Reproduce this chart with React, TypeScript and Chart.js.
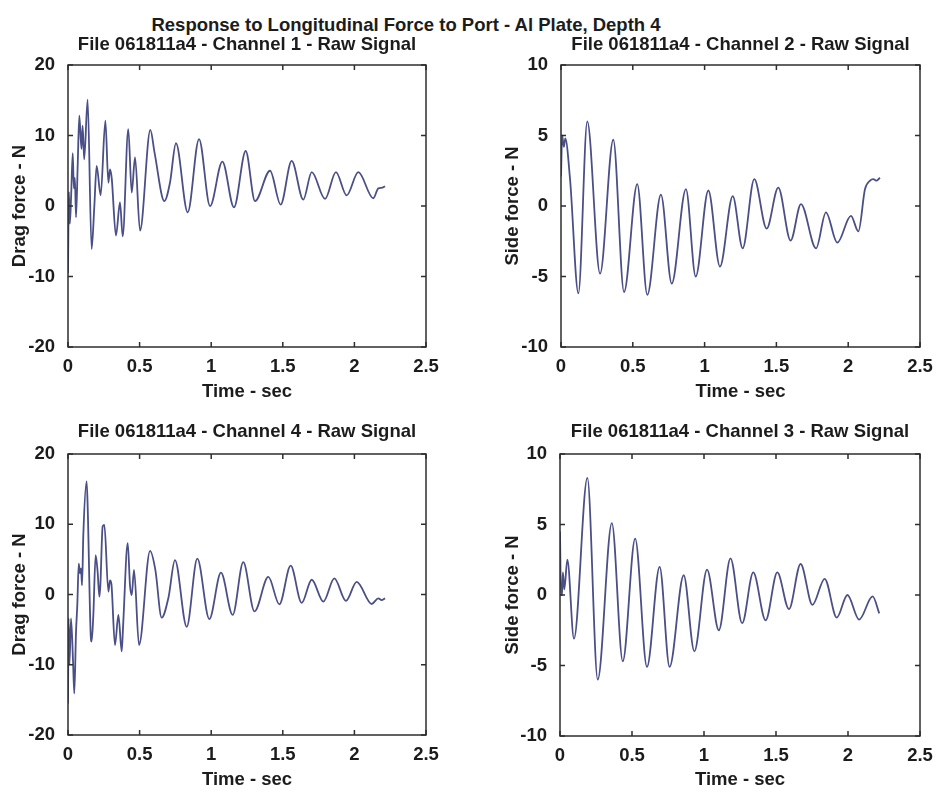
import React, { useEffect, useRef } from 'react';
import { Chart, registerables } from 'chart.js';

Chart.register(...registerables);

// ---------------- Data ----------------
const MAIN_TITLE = 'Response to Longitudinal Force to Port - Al Plate, Depth 4';
const X_LABEL = 'Time - sec';
const X_MIN = 0;
const X_MAX = 2.5;
const X_STEP = 0.5;

// Channel 1 (top-left) - drag force, N
const ch1Time = [0, 0.006, 0.013, 0.022, 0.033, 0.041, 0.048, 0.056, 0.068, 0.079, 0.094, 0.102, 0.113, 0.137, 0.165, 0.184, 0.2, 0.228, 0.261, 0.282, 0.293, 0.305, 0.335, 0.363, 0.382, 0.421, 0.445, 0.468, 0.503, 0.575, 0.605, 0.673, 0.712, 0.754, 0.836, 0.915, 0.992, 1.078, 1.159, 1.241, 1.306, 1.411, 1.485, 1.562, 1.643, 1.702, 1.795, 1.871, 1.946, 2.027, 2.132, 2.167, 2.195, 2.214];
const ch1Force = [-9.5, 2.0, -2.5, 1.5, 7.5, 2.5, 4.0, -1.6, 6.0, 12.8, 8.1, 11.4, 6.6, 15.1, -6.1, 0.0, 5.7, 1.5, 12.1, 3.3, 5.2, 4.0, -4.2, 0.5, -4.3, 10.9, 1.9, 6.9, -3.5, 10.8, 7.5, 0.7, 3.3, 8.9, -0.9, 9.5, 0.0, 6.3, -0.2, 7.8, 0.7, 5.0, 0.2, 6.4, 0.9, 4.8, 1.0, 4.8, 1.5, 4.8, 1.1, 2.5, 2.6, 2.8];

// Channel 2 (top-right) - side force, N
const ch2Time = [0, 0.008, 0.02, 0.03, 0.063, 0.121, 0.183, 0.272, 0.364, 0.439, 0.531, 0.601, 0.696, 0.771, 0.87, 0.938, 1.026, 1.107, 1.196, 1.265, 1.346, 1.432, 1.513, 1.599, 1.671, 1.776, 1.845, 1.924, 2.019, 2.071, 2.117, 2.152, 2.175, 2.198, 2.221];
const ch2Force = [2.1, 5.0, 4.2, 4.8, 1.9, -6.2, 6.0, -4.8, 4.7, -6.1, 1.55, -6.3, 0.8, -5.5, 1.2, -5.0, 1.1, -4.3, 0.7, -3.0, 1.9, -1.6, 1.3, -2.45, 0.14, -3.0, -0.45, -2.6, -0.7, -1.8, 1.2, 1.8, 1.9, 1.8, 2.0];

// Channel 4 (bottom-left) - drag force, N
const ch4Time = [0, 0.004, 0.01, 0.021, 0.035, 0.044, 0.056, 0.065, 0.075, 0.084, 0.091, 0.098, 0.107, 0.13, 0.137, 0.158, 0.165, 0.177, 0.193, 0.207, 0.219, 0.226, 0.242, 0.254, 0.282, 0.293, 0.303, 0.328, 0.352, 0.375, 0.385, 0.417, 0.433, 0.445, 0.461, 0.496, 0.573, 0.61, 0.654, 0.701, 0.747, 0.829, 0.903, 0.987, 1.068, 1.15, 1.224, 1.302, 1.399, 1.476, 1.555, 1.632, 1.702, 1.783, 1.86, 1.941, 2.016, 2.121, 2.167, 2.19, 2.214];
const ch4Force = [-15.5, -3.4, -10, -3.4, -9.4, -14.1, -5.3, -1.5, 4.4, 3.0, 3.7, 1.3, 8.5, 16.1, 12.8, -5.5, -6.7, -2.9, 5.6, 3.2, -0.3, 1.3, 9.7, 9.9, 0.4, 2.0, 1.5, -7.2, -2.9, -8.1, -4.4, 7.3, 1.3, -0.1, 3.5, -7.2, 6.2, 3.5, -3.3, -0.5, 4.9, -4.6, 5.1, -3.5, 3.1, -2.9, 4.6, -2.4, 2.5, -1.4, 4.1, -1.2, 2.1, -1.0, 2.3, -0.9, 1.8, -1.35, -0.55, -0.8, -0.55];

// Channel 3 (bottom-right) - side force, N
const ch3Time = [0, 0.007, 0.014, 0.02, 0.03, 0.051, 0.097, 0.19, 0.262, 0.36, 0.436, 0.522, 0.604, 0.692, 0.761, 0.859, 0.933, 1.021, 1.103, 1.184, 1.265, 1.342, 1.428, 1.509, 1.59, 1.671, 1.753, 1.838, 1.922, 1.996, 2.077, 2.171, 2.217];
const ch3Force = [4.5, 0.0, 0.0, 1.6, 0.4, 2.5, -3.1, 8.3, -6.0, 5.1, -4.7, 4.0, -5.1, 2.0, -5.1, 1.4, -4.0, 1.8, -2.5, 2.6, -2.0, 1.6, -1.8, 1.6, -1.0, 2.2, -0.7, 1.15, -1.6, 0.0, -1.74, -0.1, -1.3];

// ---------------- Styling ----------------
const FONT = '"Liberation Sans", Arial, Helvetica, sans-serif';
const FS = 18.5;
const LH = FS * 1.2;
const TXT = '#1c1c1c';
const LINE = '#4a4f86';
const BOX = '#2e2e2e';

type Geo = {
  cl: number; ct: number; cw: number; ch: number;
  l: number; t: number; r: number; b: number;
  subY: number; xTitleY: number; yTitleX: number;
};

const boxPlugin = {
  id: 'matlabBox',
  afterDatasetsDraw(chart: any) {
    const { ctx, chartArea: a, scales } = chart;
    ctx.save();
    ctx.strokeStyle = BOX;
    ctx.lineWidth = 1.5;
    ctx.strokeRect(a.left, a.top, a.right - a.left, a.bottom - a.top);
    const L = 5;
    ctx.beginPath();
    scales.x.ticks.forEach((tk: any) => {
      const px = scales.x.getPixelForValue(tk.value);
      ctx.moveTo(px, a.bottom); ctx.lineTo(px, a.bottom - L);
      ctx.moveTo(px, a.top); ctx.lineTo(px, a.top + L);
    });
    scales.y.ticks.forEach((tk: any) => {
      const py = scales.y.getPixelForValue(tk.value);
      ctx.moveTo(a.left, py); ctx.lineTo(a.left + L, py);
      ctx.moveTo(a.right, py); ctx.lineTo(a.right - L, py);
    });
    ctx.stroke();
    ctx.restore();
  },
};

type PanelProps = {
  title: string; yLabel: string; xs: number[]; ys: number[];
  yMin: number; yMax: number; yStep: number; geo: Geo;
};

function Panel({ title, yLabel, xs, ys, yMin, yMax, yStep, geo }: PanelProps) {
  const ref = useRef<HTMLCanvasElement>(null);
  useEffect(() => {
    const canvas = ref.current!;
    const font = { family: FONT, size: FS, weight: 'bold' as const, lineHeight: 1.2 };
    const chart = new Chart(canvas, {
      type: 'line',
      data: {
        datasets: [{
          data: xs.map((x, i) => ({ x, y: ys[i] })),
          borderColor: LINE,
          borderWidth: 1.8,
          pointRadius: 0,
          fill: false,
          cubicInterpolationMode: 'monotone',
        }],
      },
      options: {
        responsive: false,
        animation: false,
        events: [],
        layout: {
          padding: {
            left: 0,
            right: geo.cl + geo.cw - geo.r,
            top: geo.subY - LH / 2 - geo.ct,
            bottom: geo.ct + geo.ch - geo.xTitleY - LH / 2,
          },
        },
        plugins: {
          legend: { display: false },
          tooltip: { enabled: false },
          title: {
            display: true,
            text: title,
            font,
            color: TXT,
            fullSize: false,
            padding: { top: 0, bottom: geo.t - geo.subY - LH / 2 },
          },
        },
        scales: {
          x: {
            type: 'linear',
            min: X_MIN,
            max: X_MAX,
            ticks: {
              stepSize: X_STEP, font, color: TXT, padding: 1, maxRotation: 0, autoSkip: false,
              callback: (v: any) => String(Number(v)),
            },
            grid: { display: false },
            border: { display: false },
            title: { display: true, text: X_LABEL, font, color: TXT, padding: 0 },
            afterFit: (s: any) => { s.height = geo.xTitleY - geo.b + LH / 2; },
          },
          y: {
            type: 'linear',
            min: yMin,
            max: yMax,
            ticks: { stepSize: yStep, font, color: TXT, padding: 5, callback: (v: any) => String(Number(v)) },
            grid: { display: false },
            border: { display: false },
            title: {
              display: true, text: yLabel, font, color: TXT,
              padding: { top: geo.yTitleX - geo.cl - LH / 2, bottom: 0 },
            },
            afterFit: (s: any) => { s.width = geo.l - geo.cl; },
          },
        },
      } as any,
      plugins: [boxPlugin],
    });
    return () => chart.destroy();
  }, []);
  return (
    <canvas
      ref={ref}
      width={geo.cw}
      height={geo.ch}
      style={{ position: 'absolute', left: geo.cl, top: geo.ct, width: geo.cw, height: geo.ch }}
    />
  );
}

const GEO_TL: Geo = { cl: 0, ct: 0, cw: 468, ch: 402, l: 68, t: 65, r: 426, b: 347, subY: 45, xTitleY: 392, yTitleX: 20 };
const GEO_TR: Geo = { cl: 493, ct: 0, cw: 443, ch: 402, l: 561, t: 65, r: 920, b: 347, subY: 45, xTitleY: 392, yTitleX: 513 };
const GEO_BL: Geo = { cl: 0, ct: 402, cw: 468, ch: 391, l: 68, t: 454, r: 426, b: 735, subY: 432, xTitleY: 780, yTitleX: 20 };
const GEO_BR: Geo = { cl: 493, ct: 402, cw: 443, ch: 391, l: 560, t: 454, r: 920, b: 736, subY: 432, xTitleY: 780, yTitleX: 513 };

export default function App() {
  return (
    <div style={{ position: 'fixed', left: 0, top: 0, width: 936, height: 793, background: '#ffffff', overflow: 'hidden' }}>
      <div
        style={{
          position: 'absolute', left: 0, top: 25 - LH / 2, width: 812, textAlign: 'center',
          fontFamily: FONT, fontWeight: 'bold', fontSize: FS, lineHeight: `${LH}px`, color: TXT, whiteSpace: 'nowrap',
        }}
      >
        {MAIN_TITLE}
      </div>
      <Panel title="File 061811a4 - Channel 1 - Raw Signal" yLabel="Drag force - N" xs={ch1Time} ys={ch1Force} yMin={-20} yMax={20} yStep={10} geo={GEO_TL} />
      <Panel title="File 061811a4 - Channel 2 - Raw Signal" yLabel="Side force - N" xs={ch2Time} ys={ch2Force} yMin={-10} yMax={10} yStep={5} geo={GEO_TR} />
      <Panel title="File 061811a4 - Channel 4 - Raw Signal" yLabel="Drag force - N" xs={ch4Time} ys={ch4Force} yMin={-20} yMax={20} yStep={10} geo={GEO_BL} />
      <Panel title="File 061811a4 - Channel 3 - Raw Signal" yLabel="Side force - N" xs={ch3Time} ys={ch3Force} yMin={-10} yMax={10} yStep={5} geo={GEO_BR} />
    </div>
  );
}
